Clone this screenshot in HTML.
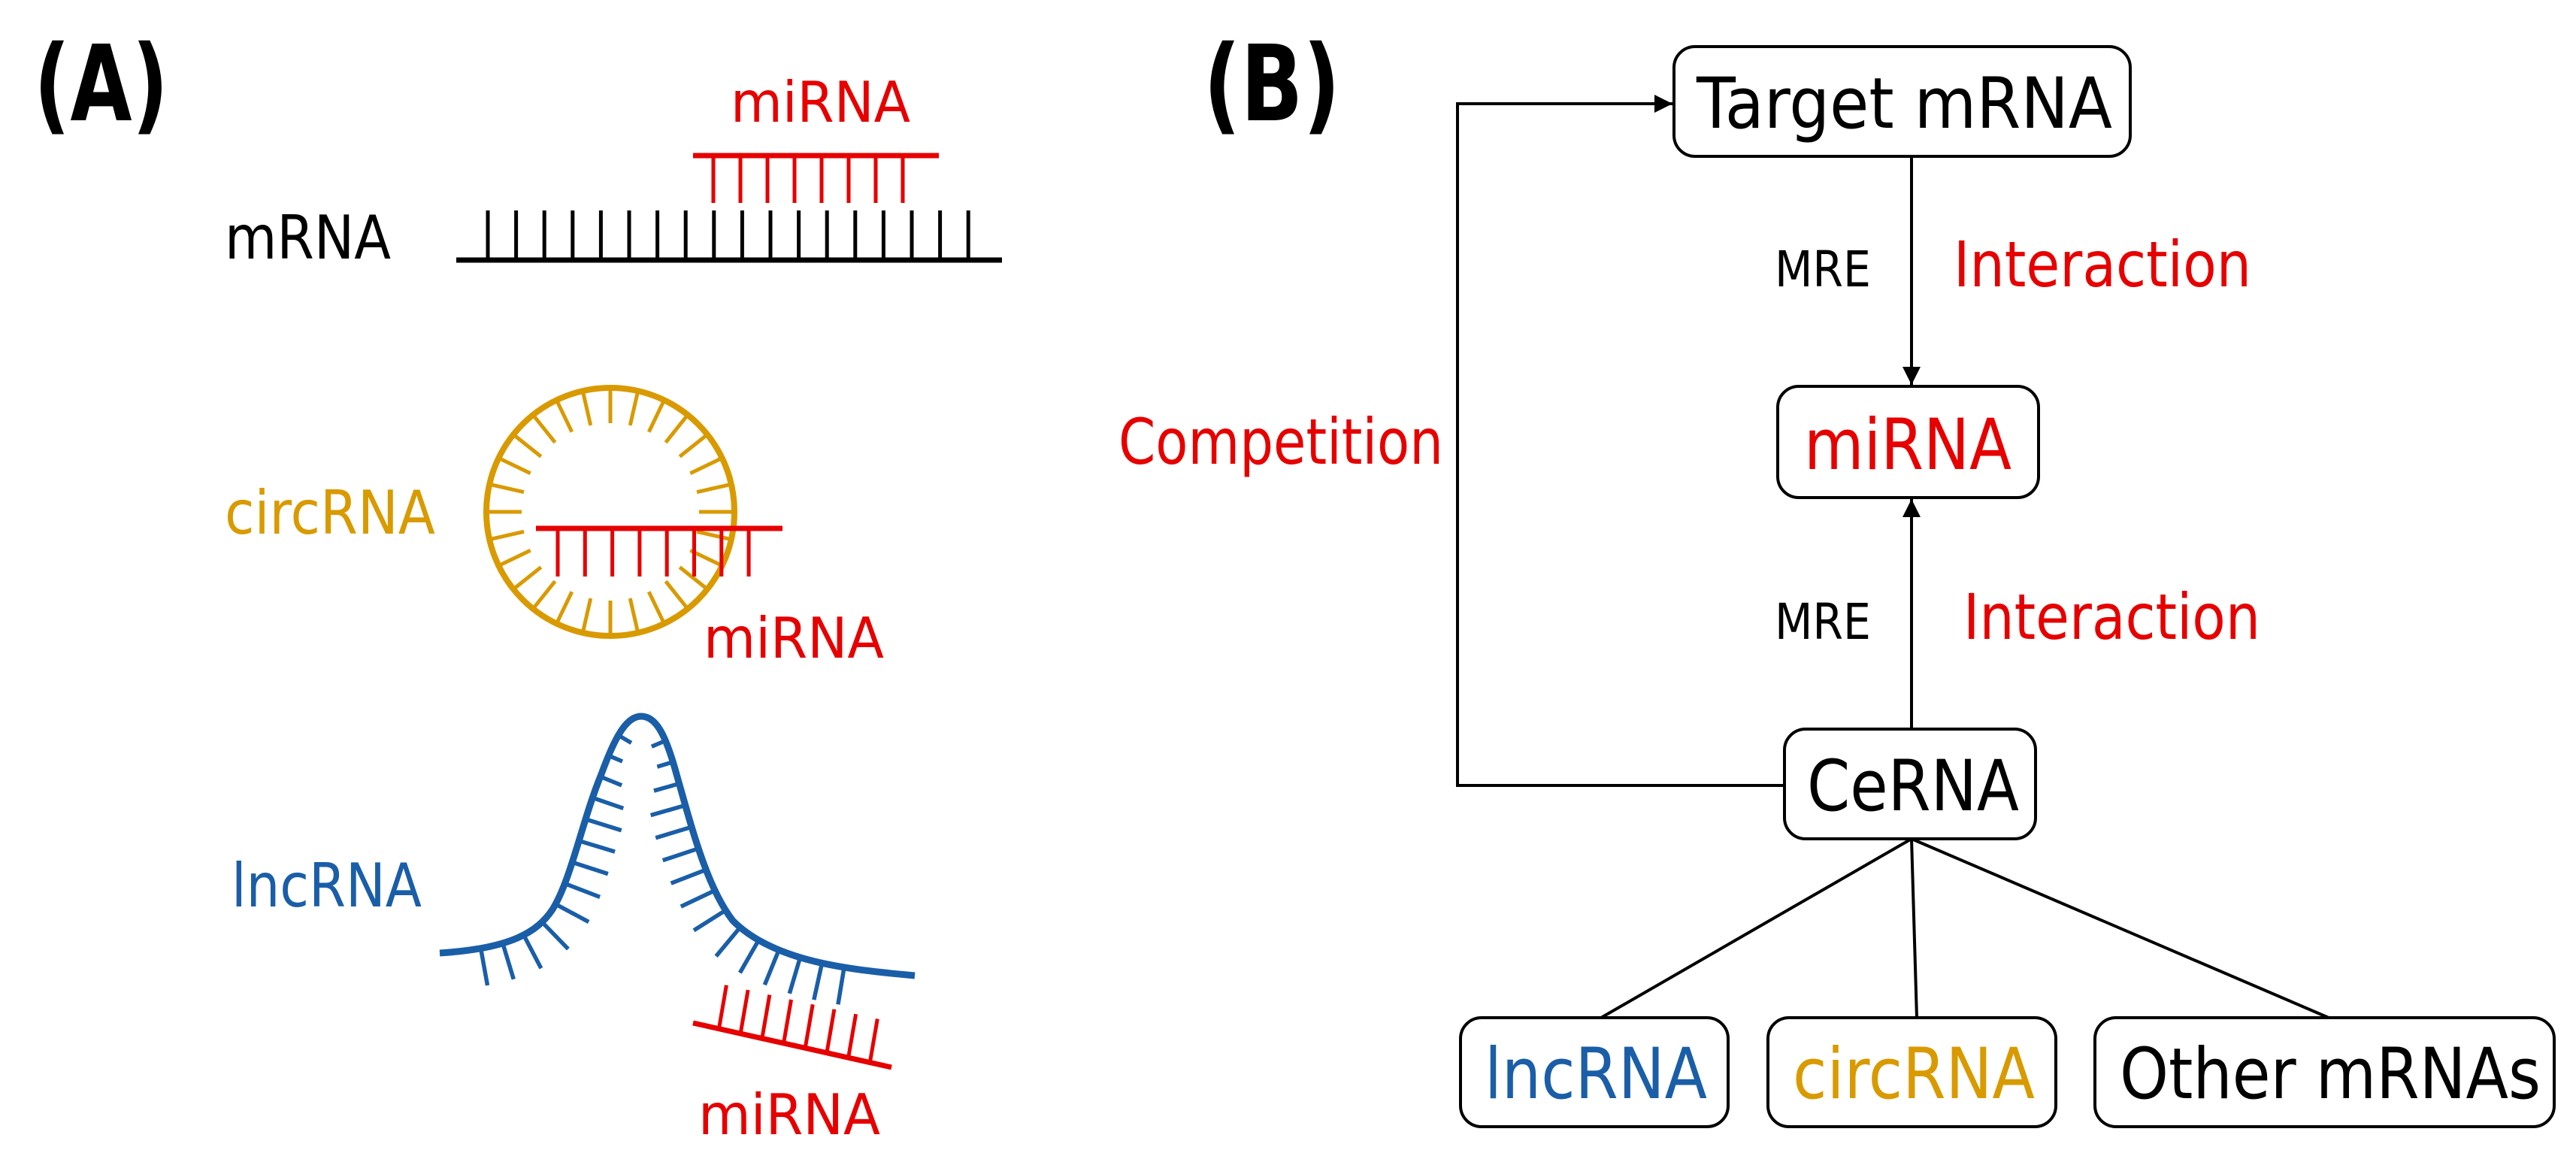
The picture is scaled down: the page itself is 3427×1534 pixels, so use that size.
<!DOCTYPE html>
<html><head><meta charset="utf-8">
<style>
html,body{margin:0;padding:0;background:#fff;}
svg{display:block;}
text{font-family:"DejaVu Sans","Liberation Sans",sans-serif;}
</style></head>
<body>
<svg id="s" width="3427" height="1534" viewBox="0 0 3427 1534" xmlns="http://www.w3.org/2000/svg">
<defs>
<marker id="ah" viewBox="0 0 10 10" refX="10" refY="5" markerWidth="7" markerHeight="6" markerUnits="strokeWidth" orient="auto">
<path d="M0,0 L10,5 L0,10 z" fill="#000"/>
</marker>
</defs>
<!-- Panel A -->
<text x="45" y="160" font-size="140" font-weight="bold" textLength="179" lengthAdjust="spacingAndGlyphs">(A)</text>
<text x="972" y="162" font-size="75" fill="#e60000" textLength="239" lengthAdjust="spacingAndGlyphs">miRNA</text>
<text x="299" y="344" font-size="80" fill="#000" textLength="221" lengthAdjust="spacingAndGlyphs">mRNA</text>
<line x1="607" y1="346" x2="1333" y2="346" stroke="#000" stroke-width="7"/>
<g id="mt" stroke="#000" stroke-width="5"></g>
<line x1="922" y1="207" x2="1249" y2="207" stroke="#e60000" stroke-width="7"/>
<g id="rt1" stroke="#e60000" stroke-width="5"></g>

<text x="299" y="710" font-size="80" fill="#d99a00" textLength="280" lengthAdjust="spacingAndGlyphs">circRNA</text>
<circle cx="812" cy="681" r="165" fill="none" stroke="#d99a00" stroke-width="8"/>
<g id="ct" stroke="#d99a00" stroke-width="5"></g>
<line x1="713" y1="703" x2="1041" y2="703" stroke="#e60000" stroke-width="7"/>
<g id="rt2" stroke="#e60000" stroke-width="5"></g>
<text x="936" y="875" font-size="75" fill="#e60000" textLength="240" lengthAdjust="spacingAndGlyphs">miRNA</text>

<text x="308" y="1206" font-size="80" fill="#1a5ea8" textLength="253" lengthAdjust="spacingAndGlyphs">lncRNA</text>
<path id="lp" d="M585,1268 C680,1262 715,1240 735,1210 C760,1170 775,1090 800,1030 C820,975 835,953 853,953 C872,953 885,975 900,1030 C920,1100 940,1180 975,1225 C1030,1280 1130,1290 1217,1298" fill="none" stroke="#1a5ea8" stroke-width="9"/>
<g id="lt" stroke="#1a5ea8" stroke-width="5.5"></g>
<line x1="922" y1="1361" x2="1186" y2="1420" stroke="#e60000" stroke-width="7"/>
<g id="rt3" stroke="#e60000" stroke-width="5"></g>
<text x="929" y="1509" font-size="75" fill="#e60000" textLength="242" lengthAdjust="spacingAndGlyphs">miRNA</text>

<!-- Panel B -->
<text x="1601" y="160" font-size="140" font-weight="bold" textLength="182" lengthAdjust="spacingAndGlyphs">(B)</text>
<g fill="#fff" stroke="#000" stroke-width="4">
<rect x="2227" y="62" width="607" height="146" rx="28"/>
<rect x="2365" y="514" width="347" height="148" rx="28"/>
<rect x="2374" y="970" width="334" height="146" rx="28"/>
<rect x="1943" y="1354" width="356" height="145" rx="28"/>
<rect x="2352" y="1354" width="383" height="145" rx="28"/>
<rect x="2787" y="1354" width="611" height="145" rx="28"/>
</g>
<g font-size="94">
<text x="2257" y="170" textLength="553" lengthAdjust="spacingAndGlyphs">Target mRNA</text>
<text x="2400" y="624" fill="#e60000" textLength="276" lengthAdjust="spacingAndGlyphs">miRNA</text>
<text x="2404" y="1078" textLength="282" lengthAdjust="spacingAndGlyphs">CeRNA</text>
<text x="1975" y="1461" fill="#1a5ea8" textLength="296" lengthAdjust="spacingAndGlyphs">lncRNA</text>
<text x="2385" y="1461" fill="#d99a00" textLength="322" lengthAdjust="spacingAndGlyphs">circRNA</text>
<text x="2820" y="1461" textLength="560" lengthAdjust="spacingAndGlyphs">Other mRNAs</text>
</g>
<text x="2361" y="381" font-size="66" textLength="128" lengthAdjust="spacingAndGlyphs">MRE</text>
<text x="2599" y="381" font-size="84" fill="#e60000" textLength="396" lengthAdjust="spacingAndGlyphs">Interaction</text>
<text x="2361" y="850" font-size="66" textLength="128" lengthAdjust="spacingAndGlyphs">MRE</text>
<text x="2612" y="850" font-size="84" fill="#e60000" textLength="395" lengthAdjust="spacingAndGlyphs">Interaction</text>
<text x="1488" y="617" font-size="84" fill="#e60000" textLength="432" lengthAdjust="spacingAndGlyphs">Competition</text>

<g stroke="#000" stroke-width="4" fill="none">
<line x1="2543" y1="208" x2="2543" y2="512" marker-end="url(#ah)"/>
<line x1="2543" y1="970" x2="2543" y2="664" marker-end="url(#ah)"/>
<polyline points="2374,1045 1939,1045 1939,138 2225,138" marker-end="url(#ah)"/>
<line x1="2543" y1="1116" x2="2130" y2="1354"/>
<line x1="2543" y1="1116" x2="2550" y2="1354"/>
<line x1="2543" y1="1116" x2="3098" y2="1354"/>
</g>
</svg>
<script>
var NS="http://www.w3.org/2000/svg";
function L(g,x1,y1,x2,y2){var l=document.createElementNS(NS,"line");l.setAttribute("x1",x1);l.setAttribute("y1",y1);l.setAttribute("x2",x2);l.setAttribute("y2",y2);document.getElementById(g).appendChild(l);}
for(var i=0;i<18;i++){var x=649+i*37.6;L("mt",x,280,x,346);}
for(var i=0;i<8;i++){var x=949+i*36;L("rt1",x,207,x,270);}
for(var i=0;i<8;i++){var x=742+i*36.3;L("rt2",x,703,x,767);}
for(var i=0;i<28;i++){var a=i/28*2*Math.PI;var c=Math.cos(a),s=Math.sin(a);L("ct",812+c*165,681+s*165,812+c*118,681+s*118);}
var p=document.getElementById("lp");var T=p.getTotalLength();
for(var d=55;d<T-75;d+=30){var a=p.getPointAtLength(d),b=p.getPointAtLength(d+1);if(a.y<978)continue;var dx=b.x-a.x,dy=b.y-a.y,n=Math.hypot(dx,dy);dx/=n;dy/=n;var nx=-dy,ny=dx;var len=Math.max(20,Math.min(50,(a.y-965)*0.45));L("lt",a.x+nx*3,a.y+ny*3,a.x+nx*len,a.y+ny*len);}
for(var i=0;i<8;i++){var t=(i+1.2)/9.2;var x=922+t*264,y=1361+t*59;L("rt3",x,y,x+10,y-58);}
</script>
</body></html>
